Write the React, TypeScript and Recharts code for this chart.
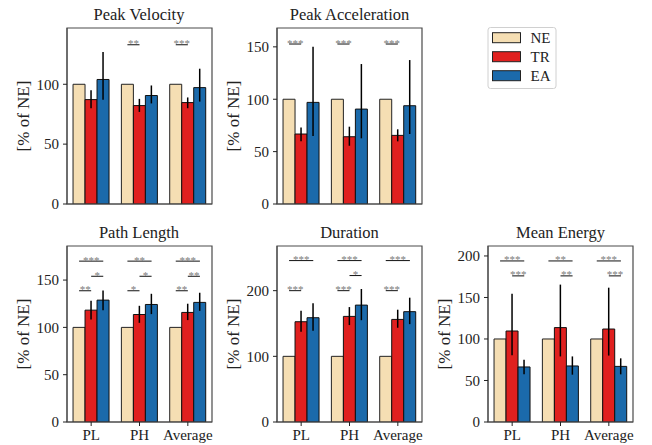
import { BarChart, Bar, XAxis, YAxis, ErrorBar, ReferenceLine, ReferenceArea } from 'recharts';

const FONT = '"Liberation Serif", "DejaVu Serif", serif';

// categories and series
const groups = ['PL', 'PH', 'Average'];
const seriesNames = ['NE', 'TR', 'EA'];
const seriesColors = ['#f5deb3', '#e0201f', '#1b6aab'];
const neValues = [100, 100, 100];

// Peak Velocity
const velocityTR = [87.2, 82.2, 84.7];
const velocityTRErr = [[7.2, 7.8], [5.3, 5.6], [4.7, 4.3]];
const velocityEA = [104, 90.6, 97.2];
const velocityEAErr = [[17, 23], [6.6, 8.4], [11.7, 15.8]];
const velocityTicks = [0, 50, 100];
const velocityBrackets = [
  { group: 1, from: 0, to: 1, y: 133, stars: '**' },
  { group: 2, from: 0, to: 1, y: 133, stars: '***' },
];

// Peak Acceleration
const accelTR = [66.8, 64.2, 65.5];
const accelTRErr = [[6.8, 6.2], [8.6, 9.6], [5.7, 5.8]];
const accelEA = [97, 90.6, 93.8];
const accelEAErr = [[32, 53], [27.9, 43], [27, 43.6]];
const accelTicks = [0, 50, 100, 150];
const accelBrackets = [
  { group: 0, from: 0, to: 1, y: 152.7, stars: '***' },
  { group: 1, from: 0, to: 1, y: 152.7, stars: '***' },
  { group: 2, from: 0, to: 1, y: 152.7, stars: '***' },
];

// Path Length
const pathTR = [118.2, 113.6, 115.8];
const pathTRErr = [[10, 10], [8.8, 9.2], [8.1, 9.2]];
const pathEA = [128.8, 124.2, 126.4];
const pathEAErr = [[10.8, 10.2], [10.2, 11.3], [8.9, 10.2]];
const pathTicks = [0, 50, 100, 150];
const pathBrackets = [
  { group: 0, from: 0, to: 2, y: 170, stars: '***' },
  { group: 0, from: 1, to: 2, y: 154, stars: '*' },
  { group: 0, from: 0, to: 1, y: 138.7, stars: '**' },
  { group: 1, from: 0, to: 2, y: 170, stars: '**' },
  { group: 1, from: 1, to: 2, y: 154, stars: '*' },
  { group: 1, from: 0, to: 1, y: 138.7, stars: '*' },
  { group: 2, from: 0, to: 2, y: 170, stars: '***' },
  { group: 2, from: 1, to: 2, y: 154, stars: '**' },
  { group: 2, from: 0, to: 1, y: 138.7, stars: '**' },
];

// Duration
const durationTR = [152.7, 160.8, 156.2];
const durationTRErr = [[15.3, 16.8], [13.2, 14.2], [12.7, 14.8]];
const durationEA = [158.8, 178, 168];
const durationEAErr = [[19.8, 21.9], [23, 24.5], [19, 21.3]];
const durationTicks = [0, 100, 200];
const durationBrackets = [
  { group: 0, from: 0, to: 2, y: 245.8, stars: '***' },
  { group: 0, from: 0, to: 1, y: 200, stars: '***' },
  { group: 1, from: 0, to: 2, y: 245.8, stars: '***' },
  { group: 1, from: 1, to: 2, y: 223, stars: '*' },
  { group: 1, from: 0, to: 1, y: 200, stars: '***' },
  { group: 2, from: 0, to: 2, y: 245.8, stars: '***' },
  { group: 2, from: 0, to: 1, y: 200, stars: '***' },
];

// Mean Energy
const energyTR = [109.6, 113.7, 112];
const energyTRErr = [[29.3, 45], [34.7, 51.8], [32, 49.8]];
const energyEA = [66.3, 67.5, 67];
const energyEAErr = [[8.9, 8.7], [10.5, 11.5], [9.6, 9.7]];
const energyTicks = [0, 50, 100, 150, 200];
const energyBrackets = [
  { group: 0, from: 0, to: 2, y: 194, stars: '***' },
  { group: 0, from: 1, to: 2, y: 176, stars: '***' },
  { group: 1, from: 0, to: 2, y: 194, stars: '**' },
  { group: 1, from: 1, to: 2, y: 176, stars: '**' },
  { group: 2, from: 0, to: 2, y: 194, stars: '***' },
  { group: 2, from: 1, to: 2, y: 176, stars: '***' },
];

const panels = [
  { title: 'Peak Velocity', left: 66.5, top: 27.5, ymax: 147, ticks: velocityTicks, tr: velocityTR, trErr: velocityTRErr, ea: velocityEA, eaErr: velocityEAErr, brackets: velocityBrackets, labels: false },
  { title: 'Peak Acceleration', left: 277, top: 28, ymax: 168, ticks: accelTicks, tr: accelTR, trErr: accelTRErr, ea: accelEA, eaErr: accelEAErr, brackets: accelBrackets, labels: false },
  { title: 'Path Length', left: 66.5, top: 245.5, ymax: 186, ticks: pathTicks, tr: pathTR, trErr: pathTRErr, ea: pathEA, eaErr: pathEAErr, brackets: pathBrackets, labels: true },
  { title: 'Duration', left: 277, top: 245.5, ymax: 268, ticks: durationTicks, tr: durationTR, trErr: durationTRErr, ea: durationEA, eaErr: durationEAErr, brackets: durationBrackets, labels: true },
  { title: 'Mean Energy', left: 488, top: 245.5, ymax: 212, ticks: energyTicks, tr: energyTR, trErr: energyTRErr, ea: energyEA, eaErr: energyEAErr, brackets: energyBrackets, labels: true },
];

const PLOT_W = 145;
const PLOT_H = 176;
const Y_AXIS_W = 89;
const TOP_M = 30;
const X_AXIS_H = 26;
const BAR_STEP = 0.25; // 3 bars filling 75% of each group
const AXIS_COLOR = '#4a4a4a';
const X_DOMAIN = [-0.5, 2.5];

function Panel({ p }: { p: (typeof panels)[number] }) {
  const data = groups.map((g, i) => ({
    pos: i,
    group: g,
    NE: neValues[i],
    TR: p.tr[i],
    EA: p.ea[i],
    trErr: p.trErr[i],
    eaErr: p.eaErr[i],
  }));
  const tickStyle = { fill: '#222', fontSize: 15, fontFamily: FONT };
  return (
    <div style={{ position: 'absolute', left: p.left - Y_AXIS_W, top: p.top - TOP_M }}>
      <BarChart
        width={Y_AXIS_W + PLOT_W + 10}
        height={TOP_M + PLOT_H + X_AXIS_H}
        data={data}
        margin={{ top: TOP_M, right: 10, left: 0, bottom: 0 }}
        barCategoryGap="12.5%"
        barGap={0}
        style={{ fontFamily: FONT }}
      >
        <XAxis
          dataKey="pos"
          type="number"
          domain={X_DOMAIN}
          allowDataOverflow
          ticks={[0, 1, 2]}
          tickFormatter={(v: number) => groups[v] ?? ''}
          height={X_AXIS_H}
          tickSize={4}
          tickMargin={3}
          tick={p.labels ? tickStyle : false}
          stroke={AXIS_COLOR}
          tickLine={{ stroke: '#222' }}
          interval={0}
        />
        <YAxis
          type="number"
          domain={[0, p.ymax]}
          ticks={p.ticks}
          allowDataOverflow
          width={Y_AXIS_W}
          tickSize={4}
          tickMargin={4}
          tick={tickStyle}
          stroke={AXIS_COLOR}
          tickLine={{ stroke: '#222' }}
          label={{ value: '[% of NE]', angle: -90, position: 'center', fill: '#222', fontSize: 17, fontFamily: FONT }}
        />
        <ReferenceArea
          x1={X_DOMAIN[0]}
          x2={X_DOMAIN[1]}
          y1={0}
          y2={p.ymax}
          fill="none"
          stroke={AXIS_COLOR}
          strokeWidth={1.2}
          ifOverflow="visible"
        />
        <Bar dataKey="NE" fill={seriesColors[0]} stroke="#222" strokeWidth={1} isAnimationActive={false} />
        <Bar dataKey="TR" fill={seriesColors[1]} stroke="#111" strokeWidth={1} isAnimationActive={false}>
          <ErrorBar dataKey="trErr" width={0} stroke="#000" strokeWidth={1.5} isAnimationActive={false} />
        </Bar>
        <Bar dataKey="EA" fill={seriesColors[2]} stroke="#111" strokeWidth={1} isAnimationActive={false}>
          <ErrorBar dataKey="eaErr" width={0} stroke="#000" strokeWidth={1.5} isAnimationActive={false} />
        </Bar>
        {p.brackets.map((b, i) => (
          <ReferenceLine
            key={i}
            segment={[
              { x: b.group + (b.from - 1) * BAR_STEP, y: b.y },
              { x: b.group + (b.to - 1) * BAR_STEP, y: b.y },
            ]}
            stroke="#111"
            strokeWidth={1}
            ifOverflow="visible"
            label={{ value: b.stars, position: 'top', offset: -2.5, fill: '#7a7a7a', fontSize: 11, fontFamily: FONT }}
          />
        ))}
      </BarChart>
    </div>
  );
}

export default function App() {
  return (
    <div style={{ position: 'absolute', left: 0, top: 0, width: 652, height: 445, background: '#fff', fontFamily: FONT }}>
      {panels.map((p) => (
        <Panel key={p.title} p={p} />
      ))}
      <svg width={652} height={445} style={{ position: 'absolute', left: 0, top: 0, pointerEvents: 'none' }}>
        {panels.map((p) => (
          <text
            key={p.title}
            x={p.left + PLOT_W / 2}
            y={p.top - 8}
            textAnchor="middle"
            fontSize={16.5}
            fontFamily={FONT}
            fill="#222"
          >
            {p.title}
          </text>
        ))}
        <rect x={488} y={27.5} width={68} height={61} rx={2.5} fill="#fff" stroke="#d0d0d0" strokeWidth={1} />
        {seriesNames.map((name, i) => (
          <g key={name}>
            <rect x={492.5} y={32.7 + i * 19} width={28} height={10} fill={seriesColors[i]} stroke="#222" strokeWidth={1} />
            <text x={530.5} y={42.7 + i * 19} fontSize={15} fontFamily={FONT} fill="#222">
              {name}
            </text>
          </g>
        ))}
      </svg>
    </div>
  );
}
